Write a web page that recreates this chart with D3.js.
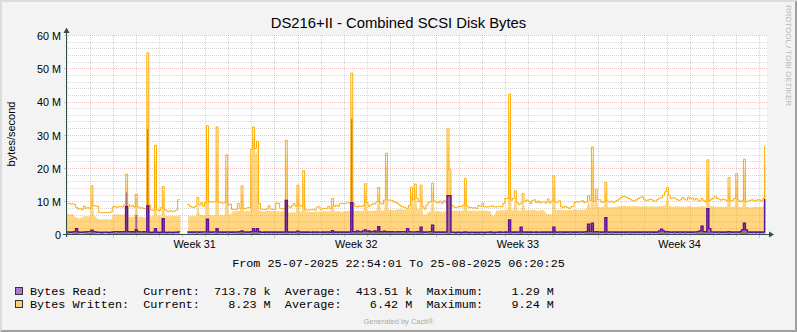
<!DOCTYPE html>
<html><head><meta charset="utf-8">
<script src="https://cdn.jsdelivr.net/npm/d3@7"></script>
<style>
html,body{margin:0;padding:0;background:#F3F3F3;}
svg{display:block;}
</style></head><body>
<svg id="chart" width="797" height="332"></svg>
<script>
// ---------- data ----------
const chartTitle = "DS216+II - Combined SCSI Disk Bytes";
const yAxisTitle = "bytes/second";
const sideText = "RRDTOOL / TOBI OETIKER";
const footerText = "Generated by Cacti®";
const startTime = "2025-07-25T22:54:01";
const endTime = "2025-08-25T06:20:25";
const rangeText = "From 25-07-2025 22:54:01 To 25-08-2025 06:20:25";
const stepHours = 2;
const yTickValues = [0, 10, 20, 30, 40, 50, 60];          // millions
const yTickLabels = ["0", "10 M", "20 M", "30 M", "40 M", "50 M", "60 M"];
const weekLabelFormat = "Week %V";
const legendNames = ["Bytes Read:", "Bytes Written:"];
const legendCurrent = ["713.78 k", "8.23 M"];
const legendAverage = ["413.51 k", "6.42 M"];
const legendMaximum = ["1.29 M", "9.24 M"];

// values in millions of bytes/second, one value every 2 hours from startTime
const writtenLine = [
 9.4, 9.5, 9.3, 9.4, 9.2, 8.3, 7.8, 8.0, 7.6, 8.7, 8.0, 8.3,
 7.9, 14.8, 8.8, 8.7, 8.6, 6.8, 6.7, 6.7, 6.8, 6.7, 6.8, 6.9,
 8.4, 8.6, 8.3, 8.5, 8.5, 8.4, 9.0, 18.3, 9.2, 8.6, 8.9, 8.4,
 12.3, 8.5, 8.1, 8.2, 8.0, 7.9, 54.8, 9.0, 7.5, 7.4, 27.0, 7.6,
 7.3, 8.2, 14.6, 7.6, 7.2, 7.0, 7.3, 7.0, 7.2, 7.5, 10.6, 10.8,
 null, null, null, 9.2, 8.6, 8.4, 8.3, 8.6, 11.3, 9.0, 9.7, 8.6,
 9.8, 32.9, 9.9, 10.0, 9.9, 10.0, 32.5, 9.8, 9.9, 9.6, 9.7, 24.1,
 9.0, 9.3, 7.7, 7.8, 7.6, 9.5, 8.0, 14.8, 8.0, 7.9, 8.2, 8.3,
 25.8, 32.5, 26.0, 28.2, 9.5, 7.8, 7.7, 7.7, 7.8, 8.8, 7.8, 7.7,
 7.7, 9.7, 9.5, 8.0, 7.9, 7.8, 28.5, 8.7, 8.2, 8.8, 9.5, 8.6,
 15.0, 9.0, 8.5, 19.3, 7.6, 7.5, 7.5, 7.6, 7.7, 7.5, 8.4, 8.5,
 7.6, 7.9, 8.0, 8.0, 8.6, 8.0, 11.0, 8.6, 9.0, 8.6, 9.4, 9.5,
 9.4, 9.6, 9.7, 9.6, 48.7, 9.5, 8.6, 8.4, 8.7, 8.6, 8.8, 15.4,
 9.7, 8.6, 9.0, 9.4, 9.3, 10.0, 14.3, 9.6, 9.3, 10.5, 24.6, 10.5,
 10.5, 10.4, 10.0, 9.8, 9.5, 9.0, 8.5, 8.4, 8.2, 8.0, 9.0, 14.3,
 10.5, 15.3, 11.0, 10.0, 15.0, 8.5, 7.8, 9.0, 9.8, 10.0, 15.6, 10.2,
 9.9, 9.7, 10.2, 9.5, 10.3, 9.8, 31.9, 19.6, 9.0, 8.4, 8.3, 8.4,
 8.6, 8.5, 9.0, 17.0, 8.7, 8.2, 8.3, 8.1, 8.2, 8.0, 8.9, 8.6,
 9.6, 8.5, 8.4, 8.5, 8.6, 8.8, 8.5, 8.4, 8.6, 8.5, 8.5, 9.5,
 11.0, 11.0, 42.4, 10.5, 11.0, 13.3, 9.8, 9.2, 9.5, 12.5, 10.0, 10.5,
 10.2, 9.5, 10.4, 10.6, 9.8, 10.2, 9.6, 9.9, 10.0, 9.6, 10.8, 9.6,
 10.2, 17.8, 9.8, 9.9, 10.3, 8.5, 8.2, 8.6, 8.3, 8.0, 8.4, 8.6,
 9.8, 10.0, 9.9, 10.1, 10.3, 9.7, 10.0, 11.8, 10.4, 26.5, 10.0, 13.8,
 10.6, 10.6, 9.8, 10.0, 15.8, 10.2, 9.9, 10.2, 9.8, 10.1, 10.4, 10.8,
 11.3, 11.6, 11.5, 11.3, 11.0, 10.6, 10.3, 10.3, 10.6, 11.0, 11.3, 11.5,
 10.8, 10.3, 10.5, 10.8, 10.6, 10.2, 10.2, 10.7, 11.0, 11.2, 12.0, 13.0,
 14.3, 12.0, 11.0, 11.2, 11.0, 10.7, 10.4, 10.6, 11.3, 10.8, 10.5, 11.4,
 10.9, 11.1, 10.5, 11.1, 10.5, 10.2, 11.0, 10.4, 10.0, 22.6, 10.3, 10.8,
 11.2, 11.5, 11.0, 10.8, 10.5, 10.8, 10.6, 10.3, 17.3, 10.2, 10.4, 11.0,
 18.5, 10.5, 10.0, 10.3, 22.8, 10.0, 10.2, 10.4, 10.6, 10.4, 10.2, 10.6,
 10.5, 10.2, 11.0, 26.8
];

const writtenArea = [
 6.3, 6.2, 6.2, 6.4, 5.6, 5.2, 5.0, 5.1, 5.3, 5.8, 5.7, 5.6,
 5.7, 13.0, 5.8, 5.6, 4.8, 4.7, 4.6, 4.7, 4.7, 4.8, 4.6, 4.7,
 6.1, 6.2, 6.3, 6.1, 6.2, 6.0, 6.2, 17.0, 5.5, 5.4, 5.6, 5.5,
 11.5, 5.4, 5.5, 5.6, 5.3, 5.4, 54.0, 5.8, 5.6, 5.7, 25.0, 5.8,
 5.7, 5.6, 13.5, 5.7, 5.8, 5.6, 5.7, 5.8, 5.7, 5.6, 5.8, 5.9,
 null, null, null, 5.7, 5.6, 5.8, 5.7, 5.6, 9.0, 6.0, 6.1, 5.9,
 6.0, 30.0, 6.1, 6.0, 5.9, 6.1, 30.0, 6.0, 6.1, 5.9, 6.0, 22.0,
 6.1, 6.2, 7.0, 7.2, 7.1, 7.3, 7.2, 13.5, 7.1, 7.2, 7.3, 7.2,
 24.0, 30.0, 24.0, 26.0, 7.4, 7.2, 7.1, 7.2, 7.3, 7.2, 7.1, 7.2,
 7.3, 7.2, 7.1, 7.0, 7.2, 7.1, 26.0, 6.8, 6.7, 6.8, 6.9, 6.8,
 13.5, 7.0, 7.1, 18.0, 7.0, 7.1, 7.0, 6.9, 7.0, 7.1, 7.0, 7.1,
 7.0, 7.1, 7.2, 7.0, 7.1, 7.2, 9.5, 7.1, 7.0, 7.2, 7.1, 7.0,
 7.1, 7.2, 7.3, 7.2, 47.0, 7.3, 7.2, 7.4, 7.3, 7.2, 7.3, 14.0,
 7.3, 7.4, 7.2, 7.3, 7.4, 7.5, 13.0, 7.3, 7.4, 7.6, 23.0, 7.5,
 7.6, 7.5, 7.4, 7.6, 7.7, 7.8, 7.7, 7.6, 7.8, 7.7, 7.8, 13.0,
 7.7, 13.5, 7.8, 7.7, 13.5, 6.2, 6.1, 6.3, 7.0, 7.1, 14.0, 7.0,
 7.1, 7.2, 7.0, 6.9, 7.1, 7.2, 29.0, 18.0, 7.3, 7.3, 7.4, 7.3,
 7.2, 7.3, 7.4, 15.5, 7.3, 7.2, 7.3, 7.4, 7.3, 7.2, 7.3, 7.4,
 7.3, 7.4, 7.3, 7.2, 7.2, 5.8, 5.7, 7.3, 7.4, 7.3, 7.5, 7.4,
 7.5, 7.6, 40.0, 7.5, 7.4, 12.0, 7.5, 7.4, 7.3, 11.0, 7.4, 7.5,
 7.4, 7.5, 7.6, 7.5, 7.4, 7.3, 7.4, 7.5, 7.4, 6.4, 6.3, 6.2,
 6.3, 16.0, 7.4, 7.5, 7.6, 7.5, 7.6, 7.4, 7.5, 7.6, 7.5, 7.6,
 7.7, 7.6, 7.5, 7.6, 7.7, 7.6, 7.8, 10.5, 7.9, 25.0, 8.2, 12.5,
 8.4, 8.3, 8.4, 8.5, 14.5, 8.4, 8.3, 8.4, 8.3, 8.4, 8.5, 8.7,
 8.6, 8.7, 8.8, 8.6, 8.7, 8.6, 8.7, 8.8, 8.6, 8.7, 8.5, 8.7,
 8.6, 8.7, 8.5, 8.6, 8.7, 8.6, 8.5, 8.6, 8.7, 8.6, 8.8, 8.9,
 13.0, 8.7, 8.6, 8.5, 8.6, 8.7, 8.5, 8.6, 8.5, 8.4, 8.6, 8.7,
 8.6, 8.5, 8.4, 8.5, 8.6, 8.5, 8.7, 8.6, 8.5, 20.0, 8.6, 8.7,
 8.6, 8.5, 8.4, 8.5, 8.6, 8.4, 8.5, 8.6, 15.5, 8.5, 8.4, 8.6,
 17.0, 8.5, 8.4, 8.6, 21.0, 8.5, 8.4, 8.3, 8.4, 8.5, 8.6, 8.4,
 8.5, 8.6, 8.5, 25.0
];

const readLine = [
 0.9, 0.9, 0.8, 0.9, 1.0, 1.9, 0.9, 0.8, 0.8, 0.9, 0.9, 1.0,
 1.0, 1.4, 1.0, 0.9, 0.8, 0.8, 0.7, 0.8, 0.8, 0.8, 0.7, 0.8,
 0.9, 1.0, 1.0, 0.9, 1.0, 0.9, 1.0, 8.5, 1.0, 0.9, 1.0, 0.9,
 1.5, 1.0, 0.9, 0.9, 1.0, 0.9, 8.7, 0.8, 0.7, 0.8, 1.9, 0.8,
 0.7, 0.8, 4.9, 0.8, 0.7, 0.8, 0.8, 0.7, 0.8, 0.8, 0.9, 0.8,
 null, null, null, 0.9, 0.8, 0.9, 0.8, 0.9, 0.9, 0.8, 0.9, 0.9,
 0.9, 4.7, 0.9, 0.8, 0.9, 0.9, 1.9, 0.9, 0.8, 0.9, 0.8, 0.9,
 0.9, 0.8, 0.9, 0.8, 0.9, 0.9, 1.0, 1.2, 0.9, 0.9, 0.8, 0.9,
 1.0, 1.9, 1.0, 1.9, 1.0, 0.8, 0.8, 0.9, 0.8, 0.9, 0.8, 0.9,
 0.8, 0.9, 0.8, 0.9, 0.8, 0.9, 10.4, 0.9, 0.8, 0.9, 0.8, 0.9,
 1.1, 0.9, 0.8, 0.9, 0.8, 0.9, 0.8, 0.8, 0.9, 0.8, 0.9, 0.8,
 0.8, 0.9, 0.8, 0.9, 0.9, 0.8, 1.3, 0.9, 0.8, 0.9, 0.8, 0.9,
 0.8, 0.9, 0.8, 0.9, 9.7, 1.0, 0.9, 1.2, 1.0, 0.9, 1.2, 1.5,
 1.0, 1.2, 0.9, 1.0, 1.2, 0.9, 2.5, 1.0, 0.9, 1.1, 0.9, 1.0,
 0.9, 1.0, 0.9, 0.9, 1.0, 0.9, 1.0, 1.0, 0.9, 1.9, 1.0, 0.9,
 0.9, 0.9, 1.0, 0.9, 2.3, 0.9, 0.8, 0.9, 0.9, 1.0, 2.9, 0.9,
 0.8, 0.9, 0.8, 0.9, 0.8, 0.9, 11.8, 11.8, 0.8, 0.8, 0.7, 0.8,
 0.8, 0.7, 0.8, 0.9, 0.8, 0.7, 0.8, 0.8, 0.7, 0.8, 0.7, 0.8,
 0.8, 0.7, 0.8, 0.8, 0.9, 0.8, 0.7, 0.8, 0.8, 0.9, 0.8, 0.8,
 0.9, 0.8, 4.5, 0.9, 0.8, 0.9, 0.8, 0.9, 2.3, 0.9, 0.8, 0.9,
 0.8, 0.9, 0.8, 0.8, 0.9, 0.8, 0.8, 0.9, 0.8, 0.9, 0.8, 0.9,
 0.8, 2.3, 0.9, 0.8, 0.9, 0.9, 0.8, 0.9, 0.8, 0.9, 0.9, 0.8,
 0.9, 0.8, 0.9, 0.9, 0.8, 0.9, 1.0, 3.2, 1.0, 3.5, 0.9, 1.0,
 0.9, 0.9, 0.8, 0.9, 5.2, 0.9, 0.8, 0.9, 0.9, 0.8, 0.9, 0.8,
 0.9, 0.8, 0.9, 0.8, 0.9, 0.9, 0.8, 0.9, 0.8, 0.9, 0.8, 0.9,
 0.9, 0.8, 0.9, 0.9, 0.8, 0.9, 0.8, 0.9, 1.2, 1.7, 1.2, 0.9,
 1.0, 0.9, 0.8, 0.9, 0.9, 0.8, 0.9, 0.9, 0.8, 0.9, 0.9, 0.8,
 0.9, 0.8, 0.9, 0.9, 1.0, 1.2, 2.6, 1.0, 0.9, 7.9, 1.9, 0.9,
 0.9, 0.8, 0.9, 0.9, 0.8, 0.9, 0.8, 0.9, 1.0, 0.9, 0.8, 0.9,
 0.9, 0.8, 1.0, 1.5, 3.5, 1.5, 0.9, 0.8, 0.9, 0.8, 0.9, 0.8,
 0.9, 0.8, 0.9, 10.8
];

const readArea = [
 0.5, 0.5, 0.4, 0.5, 0.6, 1.5, 0.5, 0.4, 0.4, 0.5, 0.5, 0.6,
 0.6, 1.0, 0.6, 0.5, 0.4, 0.4, 0.3, 0.4, 0.4, 0.4, 0.3, 0.4,
 0.5, 0.6, 0.6, 0.5, 0.6, 0.5, 0.6, 12.8, 0.6, 0.5, 0.6, 0.5,
 6.0, 0.6, 0.5, 0.5, 0.6, 0.5, 31.9, 0.4, 0.3, 0.4, 1.5, 0.4,
 0.3, 0.4, 4.7, 0.4, 0.3, 0.4, 0.4, 0.3, 0.4, 0.4, 0.5, 0.4,
 null, null, null, 0.5, 0.4, 0.5, 0.4, 0.5, 0.5, 0.4, 0.5, 0.5,
 0.5, 4.5, 0.5, 0.4, 0.5, 0.5, 1.5, 0.5, 0.4, 0.5, 0.4, 0.5,
 0.5, 0.4, 0.5, 0.4, 0.5, 0.5, 0.6, 0.8, 0.5, 0.5, 0.4, 0.5,
 0.6, 1.5, 0.6, 1.5, 0.6, 0.4, 0.4, 0.5, 0.4, 0.5, 0.4, 0.5,
 0.4, 0.5, 0.4, 0.5, 0.4, 0.5, 10.4, 0.5, 0.4, 0.5, 0.4, 0.5,
 0.7, 0.5, 0.4, 0.5, 0.4, 0.5, 0.4, 0.4, 0.5, 0.4, 0.5, 0.4,
 0.4, 0.5, 0.4, 0.5, 0.5, 0.4, 0.9, 0.5, 0.4, 0.5, 0.4, 0.5,
 0.4, 0.5, 0.4, 0.5, 34.9, 0.6, 0.5, 0.8, 0.6, 0.5, 0.8, 1.1,
 0.6, 0.8, 0.5, 0.6, 0.8, 0.5, 2.2, 0.6, 0.5, 0.7, 0.5, 0.6,
 0.5, 0.6, 0.5, 0.5, 0.6, 0.5, 0.6, 0.6, 0.5, 1.5, 0.6, 0.5,
 0.5, 0.5, 0.6, 0.5, 1.9, 0.5, 0.4, 0.5, 0.5, 0.6, 2.5, 0.5,
 0.4, 0.5, 0.4, 0.5, 0.4, 0.5, 11.8, 11.6, 0.4, 0.4, 0.3, 0.4,
 0.4, 0.3, 0.4, 0.5, 0.4, 0.3, 0.4, 0.4, 0.3, 0.4, 0.3, 0.4,
 0.4, 0.3, 0.4, 0.4, 0.5, 0.4, 0.3, 0.4, 0.4, 0.5, 0.4, 0.4,
 0.5, 0.4, 4.3, 0.5, 0.4, 0.5, 0.4, 0.5, 1.9, 0.5, 0.4, 0.5,
 0.4, 0.5, 0.4, 0.4, 0.5, 0.4, 0.4, 0.5, 0.4, 0.5, 0.4, 0.5,
 0.4, 1.9, 0.5, 0.4, 0.5, 0.5, 0.4, 0.5, 0.4, 0.5, 0.5, 0.4,
 0.5, 0.4, 0.5, 0.5, 0.4, 0.5, 0.6, 2.8, 0.6, 3.1, 0.5, 0.6,
 0.5, 0.5, 0.4, 0.5, 4.8, 0.5, 0.4, 0.5, 0.5, 0.4, 0.5, 0.4,
 0.5, 0.4, 0.5, 0.4, 0.5, 0.5, 0.4, 0.5, 0.4, 0.5, 0.4, 0.5,
 0.5, 0.4, 0.5, 0.5, 0.4, 0.5, 0.4, 0.5, 0.8, 1.3, 0.8, 0.5,
 0.6, 0.5, 0.4, 0.5, 0.5, 0.4, 0.5, 0.5, 0.4, 0.5, 0.5, 0.4,
 0.5, 0.4, 0.5, 0.5, 0.6, 0.8, 2.2, 0.6, 0.5, 7.7, 1.5, 0.5,
 0.5, 0.4, 0.5, 0.5, 0.4, 0.5, 0.4, 0.5, 0.6, 0.5, 0.4, 0.5,
 0.5, 0.4, 0.6, 1.1, 3.3, 1.1, 0.5, 0.4, 0.5, 0.4, 0.5, 0.4,
 0.5, 0.4, 0.5, 1.0
];

// ---------- styles ----------
const colWrittenLine = "#FFAB00";
const colWrittenArea = "rgba(255,171,0,0.5)";
const colReadLine = "#5A1496";
const colReadArea = "rgba(78,2,147,0.5)";

// ---------- layout ----------
const W = 797, H = 332;
const plotL = 66, plotR = 766, plotT = 35, plotB = 235;

const svg = d3.select("#chart");
const parse = d3.timeParse("%Y-%m-%dT%H:%M:%S");
const t0 = parse(startTime), t1 = parse(endTime);
const x = d3.scaleTime().domain([t0, t1]).range([plotL, plotR]);
const y = d3.scaleLinear().domain([0, 60]).range([plotB, plotT + 0.5]);
const crisp = v => Math.round(v - 0.5) + 0.5;

// background + 3d border
svg.append("rect").attr("width", W).attr("height", H).attr("fill", "#F3F3F3");
svg.append("path").attr("d", `M0,${H}L0,0L${W},0L${W-2},2L2,2L2,${H-2}Z`).attr("fill", "#DCDCDC");
svg.append("path").attr("d", `M2,${H-2}L${W-2},${H-2}L${W-2},2L${W},0L${W},${H}L0,${H}Z`).attr("fill", "#A0A0A0");

// canvas
svg.append("rect").attr("x", plotL).attr("y", plotT).attr("width", plotR - plotL + 1).attr("height", plotB - plotT)
  .attr("fill", "#FFFFFF");

// grid
const gGrid = svg.append("g").attr("stroke-width", 1).attr("fill", "none").attr("shape-rendering", "crispEdges");
const minorCol = "rgba(140,140,140,0.36)", majorCol = "rgba(222,48,48,0.30)";
const days = d3.timeDay.range(d3.timeDay.ceil(t0), t1);
days.forEach(d => {
  const isMajor = d.getDay() === 1;
  const xx = Math.floor(x(d)) + 0.5;
  gGrid.append("line").attr("x1", xx).attr("x2", xx).attr("y1", plotT).attr("y2", plotB)
    .attr("stroke", isMajor ? majorCol : minorCol).attr("stroke-dasharray", "1,1");
  gGrid.append("line").attr("x1", xx).attr("x2", xx).attr("y1", plotB).attr("y2", plotB + (isMajor ? 3 : 2))
    .attr("stroke", isMajor ? majorCol : minorCol);
});
d3.range(2, 61, 2).forEach(v => {
  const isMajor = v % 10 === 0;
  const yy = crisp(y(v));
  gGrid.append("line").attr("x1", plotL).attr("x2", plotR + 1).attr("y1", yy).attr("y2", yy)
    .attr("stroke", isMajor ? majorCol : minorCol).attr("stroke-dasharray", "1,1");
  if (isMajor) gGrid.append("line").attr("x1", plotL - 2).attr("x2", plotL).attr("y1", yy).attr("y2", yy)
    .attr("stroke", majorCol);
});

// series
const halfStep = stepHours * 1800e3;
const toPts = arr => arr.map((v, i) => ({ t: new Date(t0.getTime() + i * stepHours * 3600e3), v }));
const areaSmooth = d3.area().curve(d3.curveLinear).defined(d => d.v != null)
  .x(d => x(new Date(d.t.getTime() + halfStep))).y0(y(0)).y1(d => y(d.v));
const areaStep = d3.area().curve(d3.curveStepAfter).defined(d => d.v != null)
  .x(d => x(d.t)).y0(y(0)).y1(d => y(d.v));
const line = d3.line().curve(d3.curveStepAfter).defined(d => d.v != null)
  .x(d => x(d.t)).y(d => y(d.v));

const gData = svg.append("g");
gData.append("path").datum(toPts(writtenArea)).attr("d", areaSmooth).attr("fill", colWrittenArea);
gData.append("path").datum(toPts(readArea)).attr("d", areaStep).attr("fill", colReadArea);
gData.append("path").datum(toPts(writtenLine)).attr("d", line).attr("fill", "none")
  .attr("stroke", colWrittenLine).attr("stroke-width", 1);
gData.append("path").datum(toPts(readLine)).attr("d", line).attr("fill", "none")
  .attr("stroke", colReadLine).attr("stroke-width", 1.5);

// axes lines + arrows
const axisCol = "#2F4F4F";
svg.append("line").attr("x1", plotL - 3).attr("x2", plotR + 5).attr("y1", 234.5).attr("y2", 234.5)
  .attr("stroke", axisCol).attr("stroke-width", 1);
svg.append("line").attr("x1", 66.5).attr("x2", 66.5).attr("y1", plotB + 2).attr("y2", 30)
  .attr("stroke", axisCol).attr("stroke-width", 1);
svg.append("path").attr("d", "M63.5,33L66.5,27.5L69.5,33Z").attr("fill", axisCol);
svg.append("path").attr("d", `M${plotR + 3},231.5L${plotR + 8},234.5L${plotR + 3},237.5Z`).attr("fill", axisCol);

// y axis labels
const yAxis = d3.axisLeft(y).tickValues(yTickValues).tickFormat((d, i) => yTickLabels[i]).tickSize(0).tickPadding(5);
const gY = svg.append("g").attr("transform", `translate(${plotL},0)`).call(yAxis);
gY.select(".domain").remove();
gY.selectAll("text").attr("font-family", "'Liberation Sans', Arial, sans-serif").attr("font-size", "10.8px")
  .attr("fill", "#000").attr("dy", "0.36em");

// x axis week labels
const mondays = d3.timeMonday.range(d3.timeMonday.floor(t0), t1);
const labelDates = mondays.map(m => new Date(m.getTime() + 3.5 * 86400e3)).filter(d => d >= t0 && d <= t1);
const xAxis = d3.axisBottom(x).tickValues(labelDates).tickFormat(d3.timeFormat(weekLabelFormat)).tickSize(0).tickPadding(5.6);
const gX = svg.append("g").attr("transform", `translate(0,${plotB})`).call(xAxis);
gX.select(".domain").remove();
gX.selectAll("text").attr("font-family", "'Liberation Sans', Arial, sans-serif").attr("font-size", "10.8px")
  .attr("fill", "#000");

// titles
svg.append("text").attr("x", 398.5).attr("y", 28.3).attr("text-anchor", "middle")
  .attr("font-family", "'Liberation Sans', Arial, sans-serif").attr("font-size", "14.8px").attr("fill", "#000")
  .text(chartTitle);
svg.append("text").attr("transform", "translate(15,134) rotate(-90)").attr("text-anchor", "middle")
  .attr("font-family", "'Liberation Sans', Arial, sans-serif").attr("font-size", "11px").attr("fill", "#000")
  .text(yAxisTitle);
svg.append("text").attr("transform", "translate(785.5,5) rotate(90)").attr("text-anchor", "start")
  .attr("font-family", "'Liberation Sans', Arial, sans-serif").attr("font-size", "8px").attr("fill", "#B8B8B8")
  .text(sideText);

// legend
const mono = "'Liberation Mono', 'DejaVu Sans Mono', monospace";
svg.append("text").attr("x", 398.5).attr("y", 267).attr("text-anchor", "middle")
  .attr("font-family", mono).attr("font-size", "11.8px").attr("fill", "#000").attr("xml:space", "preserve")
  .style("white-space", "pre").text(rangeText);
const legendCols = ["rgba(120,40,190,0.6)", colWrittenArea];
legendNames.forEach((name, i) => {
  const by = 295 + i * 13;
  svg.append("rect").attr("x", 15.5).attr("y", by - 7.5).attr("width", 7).attr("height", 7)
    .attr("fill", legendCols[i]).attr("stroke", "#333").attr("stroke-width", 1);
  const s = name.padEnd(16) + "Current:" + legendCurrent[i].padStart(10) + "  Average:" +
    legendAverage[i].padStart(10) + "  Maximum:" + legendMaximum[i].padStart(10);
  svg.append("text").attr("x", 30).attr("y", by).attr("font-family", mono).attr("font-size", "11.8px")
    .attr("fill", "#000").attr("xml:space", "preserve").style("white-space", "pre").text(s);
});
svg.append("text").attr("x", 398.5).attr("y", 324).attr("text-anchor", "middle")
  .attr("font-family", "'Liberation Sans', Arial, sans-serif").attr("font-size", "7.5px").attr("fill", "#ABABAB")
  .text(footerText);
</script>
</body></html>
